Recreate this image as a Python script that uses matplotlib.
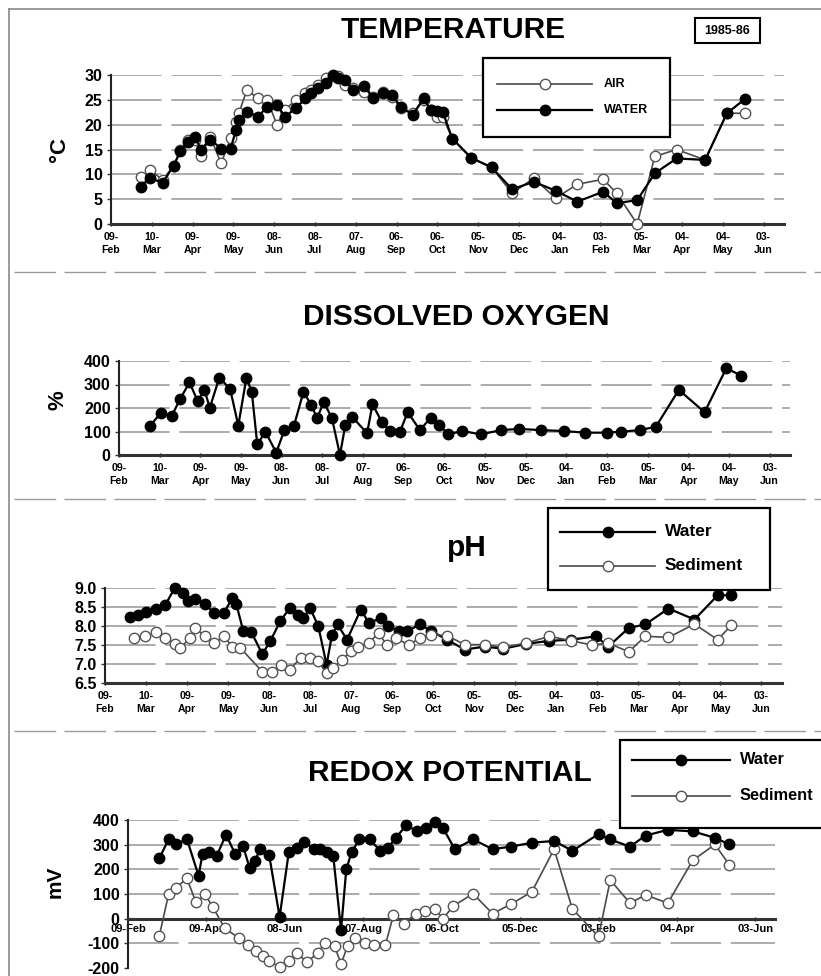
import matplotlib
matplotlib.use('Agg')
import matplotlib.pyplot as plt
from matplotlib.lines import Line2D
from matplotlib.patches import Rectangle

plt.rcParams['font.family'] = ['Liberation Sans', 'DejaVu Sans']
plt.rcParams['font.weight'] = 'bold'

# ---------------- data (x = days since 09-Feb-1985) ----------------
tick_days = [0, 30, 60, 90, 120, 150, 180, 210, 240, 270, 300, 330, 360, 390, 420, 450, 480]
tick_dd = ['09', '10', '09', '09', '08', '08', '07', '06', '06', '05', '05', '04', '03', '05', '04', '04', '03']
tick_mon = ['Feb', 'Mar', 'Apr', 'May', 'Jun', 'Jul', 'Aug', 'Sep', 'Oct', 'Nov', 'Dec',
            'Jan', 'Feb', 'Mar', 'Apr', 'May', 'Jun']
redox_tick_days = [0, 60, 120, 180, 240, 300, 360, 420, 480]
redox_tick_labels = ['09-Feb', '09-Apr', '08-Jun', '07-Aug', '06-Oct', '05-Dec', '03-Feb', '04-Apr', '03-Jun']

temp_days = [22, 29, 38, 46, 51, 57, 62, 66, 73, 81, 88, 92, 94, 100, 108, 115, 122, 128, 136, 143,
             147, 152, 158, 163, 167, 172, 178, 186, 193, 200, 207, 213, 222, 230, 235, 240, 244, 251,
             265, 280, 295, 311, 327, 343, 362, 372, 387, 400, 416, 437, 453, 466]
temp_water = [7.5, 9.2, 8.3, 11.7, 14.6, 16.6, 17.6, 15.0, 17.0, 15.2, 15.2, 19.0, 21.0, 22.6, 21.6,
              23.6, 24.0, 21.6, 23.3, 25.3, 26.3, 27.3, 28.3, 30.0, 29.3, 29.0, 27.0, 27.8, 25.3, 26.3,
              26.0, 23.6, 22.0, 25.3, 23.0, 22.8, 22.6, 17.2, 13.3, 11.4, 7.0, 8.5, 6.7, 4.5, 6.5, 4.2,
              4.8, 10.2, 13.2, 12.9, 22.3, 25.1]
temp_air = [9.4, 10.8, 8.9, 11.7, 14.9, 17.0, 17.0, 13.6, 17.6, 12.2, 17.3, 20.6, 22.3, 27.0, 25.3,
            25.0, 20.0, 23.0, 25.0, 26.3, 27.0, 28.0, 29.3, 29.7, 29.7, 28.0, 27.3, 26.6, 25.6, 26.6,
            25.6, 23.3, 22.3, 25.0, 23.0, 21.6, 21.6, 17.2, 13.3, 11.4, 6.2, 9.2, 5.2, 8.0, 9.0, 6.2,
            0.0, 13.6, 15.0, 12.9, 22.3, 22.3]

do_days = [23, 31, 39, 45, 52, 58, 63, 67, 74, 82, 88, 94, 98, 102, 108, 116, 122, 129, 136, 142,
           146, 151, 157, 163, 167, 172, 183, 187, 194, 200, 207, 213, 222, 230, 236, 243, 253, 267,
           282, 295, 311, 328, 344, 360, 370, 384, 396, 413, 432, 448, 459]
do_vals = [125, 180, 167, 237, 309, 230, 277, 201, 329, 281, 125, 329, 267, 45, 99, 10, 106, 123, 267,
           213, 156, 224, 159, 0, 128, 163, 92, 216, 139, 102, 96, 182, 106, 159, 128, 88, 102, 88,
           106, 111, 106, 102, 95, 95, 99, 106, 120, 277, 182, 369, 338]

ph_w_days = [18, 24, 30, 37, 44, 51, 57, 61, 66, 73, 80, 87, 93, 96, 101, 107, 115, 121, 128, 135,
             141, 145, 150, 156, 162, 166, 170, 177, 187, 193, 202, 207, 215, 221, 230, 238,
             250, 263, 278, 291, 308, 325, 341, 359, 368, 383, 395, 412, 431, 448, 458]
ph_water = [8.23, 8.30, 8.38, 8.45, 8.55, 9.00, 8.87, 8.65, 8.72, 8.58, 8.34, 8.34, 8.74, 8.58, 7.88,
            7.84, 7.26, 7.61, 8.12, 8.47, 8.28, 8.21, 8.47, 7.99, 6.98, 7.77, 8.04, 7.64, 8.43, 8.08,
            8.21, 7.99, 7.88, 7.86, 8.04, 7.88,
            7.64, 7.38, 7.46, 7.40, 7.53, 7.61, 7.64, 7.73, 7.46, 7.95, 8.04, 8.46, 8.17, 8.81, 8.81]
ph_s_days = [21, 29, 37, 44, 51, 55, 62, 66, 73, 80, 87, 93, 99, 115, 122, 129, 135, 143, 150, 156,
             162, 167, 173, 180, 185, 193, 200, 206, 213, 222, 230, 238,
             250, 263, 278, 291, 308, 325, 341, 356, 368, 383, 395, 412, 431, 448, 458]
ph_sediment = [7.68, 7.73, 7.84, 7.68, 7.53, 7.42, 7.68, 7.95, 7.73, 7.55, 7.73, 7.46, 7.42, 6.80,
               6.80, 6.98, 6.85, 7.16, 7.16, 7.07, 6.76, 6.90, 7.11, 7.33, 7.46, 7.55, 7.82, 7.50,
               7.68, 7.50, 7.68, 7.77,
               7.75, 7.51, 7.51, 7.44, 7.55, 7.73, 7.61, 7.50, 7.55, 7.32, 7.73, 7.70, 8.05, 7.64, 8.02]

rx_w_days = [24, 31, 37, 45, 54, 57, 62, 68, 75, 82, 88, 93, 97, 101, 108, 116, 123, 129, 135, 142,
             147, 152, 157, 163, 167, 171, 177, 185, 193, 199, 205, 213, 221, 228, 235, 241, 250,
             264, 279, 293, 309, 326, 340, 360, 369, 384, 396, 413, 432, 449, 460]
rx_water = [245, 321, 301, 324, 174, 262, 271, 256, 341, 262, 295, 206, 232, 282, 258, 7, 269, 288,
            311, 284, 284, 271, 256, -46, 200, 269, 321, 321, 275, 288, 328, 380, 354, 367, 393, 367,
            282, 321, 282, 292, 308, 315, 275, 343, 321, 292, 337, 360, 354, 328, 301]
rx_s_days = [24, 31, 37, 45, 52, 59, 65, 74, 85, 92, 98, 103, 108, 116, 123, 129, 137, 145, 151, 158,
             163, 168, 174, 181, 188, 197, 203, 211, 220, 227, 235, 241, 249, 264, 279, 293, 309, 326,
             340, 360, 369, 384, 396, 413, 432, 449, 460]
rx_sediment = [-69, 98, 125, 164, 66, 98, 46, -39, -79, -105, -131, -151, -170, -197, -170, -138, -177,
               -138, -98, -111, -183, -111, -79, -98, -105, -105, 13, -20, 20, 33, 40, 0, 52, 101, 20,
               59, 109, 282, 39, -72, 157, 63, 96, 63, 236, 301, 219]

# ---------------- figure ----------------
W, H = 821, 976
fig = plt.figure(figsize=(W / 100, H / 100), dpi=100)
fig.patch.set_facecolor('white')


def px_axes(left, top, right, bottom):
    return fig.add_axes([left / W, 1 - bottom / H, (right - left) / W, (bottom - top) / H])


GRID = dict(color='#ababab', lw=1.4, ls=(0, (26, 5)))


def style(ax, ylim, yticks, ylabels, redox=False):
    ax.set_xlim(0, 495)
    ax.set_ylim(*ylim)
    for s in ('top', 'right'):
        ax.spines[s].set_visible(False)
    ax.spines['left'].set_color('#222222')
    ax.spines['left'].set_linewidth(1.5)
    ax.spines['bottom'].set_color('#333333')
    ax.spines['bottom'].set_linewidth(2.2)
    ax.set_yticks(yticks)
    ax.set_yticklabels(ylabels, fontsize=11.5, fontweight='bold')
    ax.tick_params(axis='y', length=3, width=1, pad=3, color='#333')
    for v in yticks:
        if v != ylim[0] and not (redox and v == 0):
            ax.axhline(v, zorder=0, **GRID)
    if redox:
        ax.spines['bottom'].set_position(('data', 0))
        ax.set_xticks(redox_tick_days)
        ax.set_xticklabels(redox_tick_labels, fontsize=8.0, fontweight='bold')
        ax.tick_params(axis='x', length=3, width=1, pad=2, direction='inout')
    else:
        ax.set_xticks(tick_days)
        ax.set_xticklabels([f'{d}-\n{m}' for d, m in zip(tick_dd, tick_mon)],
                           fontsize=7.6, fontweight='bold', linespacing=1.45)
        ax.tick_params(axis='x', length=3, width=1, pad=4, direction='inout')
    ax.patch.set_alpha(0)


MS = 7.5
open_kw = dict(color='#4a4a4a', lw=1.2, marker='o', ms=MS, mfc='white', mec='#555555', mew=1.0,
               clip_on=False)
fill_kw = dict(color='black', lw=1.6, marker='o', ms=MS, mfc='black', mec='black', mew=1.0,
               clip_on=False)

# Temperature
ax_t = px_axes(111, 75, 784, 224)
style(ax_t, (0, 30), [0, 5, 10, 15, 20, 25, 30], ['0', '5', '10', '15', '20', '25', '30'])
ax_t.plot(temp_days, temp_air, zorder=3, **open_kw)
ax_t.plot(temp_days, temp_water, zorder=4, **fill_kw)

# Dissolved oxygen
ax_d = px_axes(119, 361, 790, 455)
style(ax_d, (0, 400), [0, 100, 200, 300, 400], ['0', '100', '200', '300', '400'])
ax_d.plot(do_days, do_vals, zorder=4, **fill_kw)

# pH
ax_p = px_axes(105, 588, 782, 683)
style(ax_p, (6.5, 9.0), [6.5, 7.0, 7.5, 8.0, 8.5, 9.0], ['6.5', '7.0', '7.5', '8.0', '8.5', '9.0'])
ax_p.plot(ph_w_days, ph_water, zorder=3, **fill_kw)
ax_p.plot(ph_s_days, ph_sediment, zorder=4, **open_kw)

# Redox
ax_r = px_axes(128, 820, 775, 968)
style(ax_r, (-200, 400), [-200, -100, 0, 100, 200, 300, 400],
      ['-200', '-100', '0', '100', '200', '300', '400'], redox=True)
ax_r.plot(rx_w_days, rx_water, zorder=4, **fill_kw)
ax_r.plot(rx_s_days, rx_sediment, zorder=3, **open_kw)

# ---------------- overlay (titles, legends, frame) ----------------
ov = fig.add_axes([0, 0, 1, 1], zorder=10)
ov.set_xlim(0, W)
ov.set_ylim(H, 0)
ov.axis('off')
ov.patch.set_alpha(0)

# page frame and separators
ov.add_line(Line2D([9, 9], [9, H], color='#8a8a8a', lw=1.2))
ov.add_line(Line2D([9, W], [9, 9], color='#8a8a8a', lw=1.2))
for yy in (272, 499, 731):
    ov.add_line(Line2D([14, W], [yy, yy], color='#9a9a9a', lw=1.0, ls=(0, (30, 6))))

TT = dict(ha='center', va='center', fontsize=21.5, fontweight='bold')
ov.text(453, 30, 'TEMPERATURE', **TT)
ov.text(456, 317, 'DISSOLVED OXYGEN', **TT)
ov.text(467, 548, 'pH', **TT)
ov.text(450, 773, 'REDOX POTENTIAL', **TT)

ov.add_patch(Rectangle((695, 18), 65, 25, fc='white', ec='black', lw=1.5))
ov.text(727.5, 30.5, '1985-86', ha='center', va='center', fontsize=9, fontweight='bold')

ov.text(60, 150, '°C', rotation=90, ha='center', va='center', fontsize=16, fontweight='bold')
ov.text(58, 400, '%', rotation=90, ha='center', va='center', fontsize=16, fontweight='bold')
ov.text(55, 882, 'mV', rotation=90, ha='center', va='center', fontsize=15, fontweight='bold')


def legend(box, rows, fs):
    x0, y0, x1, y1 = box
    ov.add_patch(Rectangle((x0, y0), x1 - x0, y1 - y0, fc='white', ec='black', lw=1.6, zorder=1))
    for (y, filled, label, lx0, lx1, tx) in rows:
        kw = fill_kw if filled else open_kw
        ov.add_line(Line2D([lx0, lx1], [y, y], color=kw['color'], lw=kw['lw'], zorder=2))
        ov.add_line(Line2D([(lx0 + lx1) / 2], [y], ls='none', marker='o', ms=MS, mfc=kw['mfc'],
                           mec=kw['mec'], mew=kw['mew'], zorder=3))
        ov.text(tx, y, label, ha='left', va='center', fontsize=fs, fontweight='bold', zorder=3)


legend((483, 58, 670, 137), [(84, False, 'AIR', 497, 592, 604), (110, True, 'WATER', 497, 592, 604)], 9)
legend((548, 508, 770, 590), [(532, True, 'Water', 560, 655, 665),
                              (566, False, 'Sediment', 560, 655, 665)], 12.5)
legend((620, 740, 840, 828), [(760, True, 'Water', 632, 730, 740),
                              (796, False, 'Sediment', 632, 730, 740)], 11.8)

fig.savefig('out.png', dpi=100, facecolor='white')
